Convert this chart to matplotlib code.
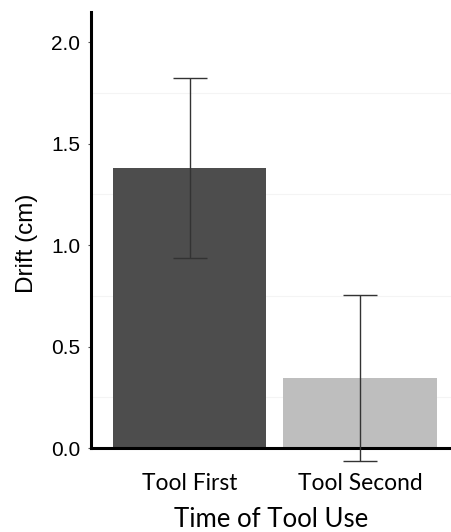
import matplotlib
matplotlib.use("Agg")
import matplotlib.pyplot as plt
import numpy as np

categories = ["Tool First", "Tool Second"]
means = [1.38, 0.345]
errors = [0.445, 0.41]
bar_colors = ["#4d4d4d", "#bebebe"]
yticks = [0.0, 0.5, 1.0, 1.5, 2.0]
ytick_labels = ["0.0", "0.5", "1.0", "1.5", "2.0"]
minor_grid = [0.25, 0.75, 1.25, 1.75]

fig = plt.figure(figsize=(4.52, 5.32), dpi=100)
ax = fig.add_axes([91/452, 1 - 448/532, 1 - 91/452, (448 - 12)/532])

x = np.arange(1, len(categories) + 1)
for yv in minor_grid:
    ax.axhline(yv, color="#f4f4f4", lw=0.8, zorder=0)
ax.bar(x, means, width=0.9, color=bar_colors, zorder=2)
ax.errorbar(x, means, yerr=errors, fmt="none", ecolor="#333333", elinewidth=1.0,
            capsize=12, capthick=1.0, zorder=3, clip_on=False)

ax.set_xlim(0.42, 2.54)
ax.set_ylim(0, 2.148)
ax.set_yticks(yticks)
ax.set_yticklabels(ytick_labels, fontsize=15, family="Liberation Sans", color="black")
ax.set_xticks(x)
ax.set_xticklabels(categories, fontsize=16.4, family="Lato", color="black")
ax.tick_params(axis="y", length=2.2, width=0.8, color="#555555", pad=5.5)
ax.tick_params(axis="x", length=0, pad=18)

for s in ["top", "right"]:
    ax.spines[s].set_visible(False)
for s in ["left", "bottom"]:
    ax.spines[s].set_linewidth(2.2)
    ax.spines[s].set_color("black")

ax.set_ylabel("Drift (cm)", fontsize=17.5, family="Liberation Sans")
ax.yaxis.set_label_coords(-0.147, 0.47)
ax.set_xlabel("Time of Tool Use", fontsize=18.5, family="Lato", labelpad=9.5)

fig.savefig("out.png", dpi=100)
